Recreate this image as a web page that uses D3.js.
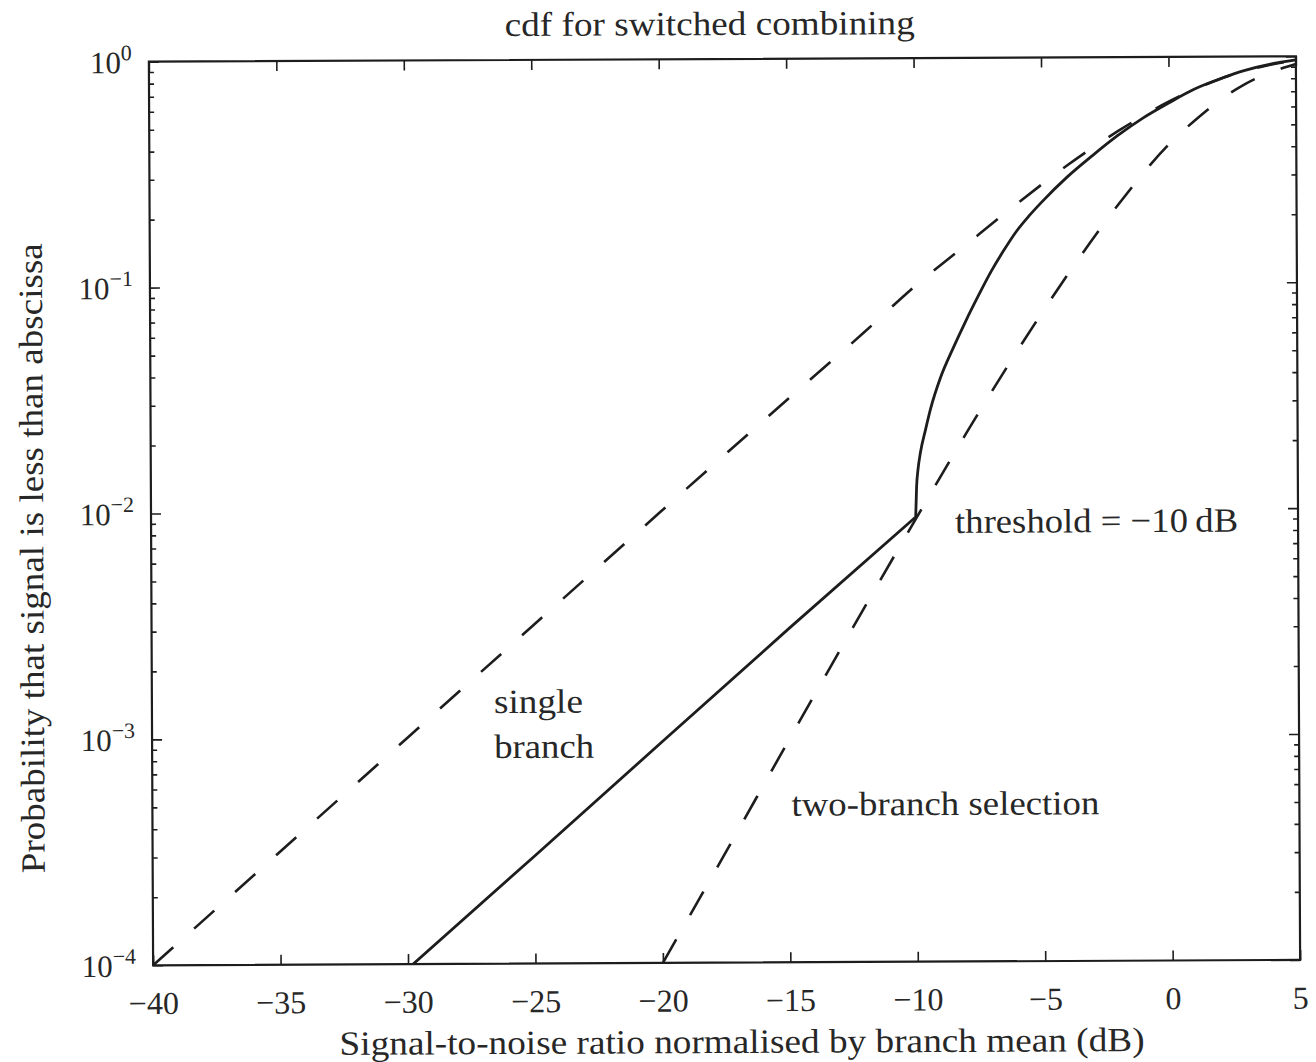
<!DOCTYPE html>
<html>
<head>
<meta charset="utf-8">
<script src="https://cdn.jsdelivr.net/npm/d3@7"></script>
<style>
  html, body { margin: 0; padding: 0; background: #fff; }
  svg { display: block; }
  text { font-family: "Liberation Serif", "Times New Roman", serif; fill: #272727; }
</style>
</head>
<body>
<svg id="chart" width="1316" height="1062"></svg>
<script>
// Normalised SNR (dB) and probability that the signal is below it
const singleDb = [-40, -35, -30, -25, -20, -15, -12, -10, -8, -6, -4, -2, 0, 1, 2, 3, 4, 5];
const singleP  = [1.0e-4, 3.16e-4, 1.0e-3, 3.16e-3, 9.95e-3, 0.0311, 0.0611, 0.0975, 0.148, 0.224, 0.332, 0.47, 0.633, 0.716, 0.795, 0.864, 0.919, 0.958];

const twoDb = [-20, -17.5, -15, -12.5, -10, -8, -6, -4, -2, 0, 1, 2, 3, 4, 5];
const twoP  = [1.0e-4, 3.1e-4, 9.7e-4, 3.0e-3, 9.1e-3, 0.0218, 0.05, 0.109, 0.222, 0.41, 0.52, 0.64, 0.755, 0.85, 0.925];

// switched combining: straight below the threshold, sharp rise just above it
const thresholdDb = -10;
const switchedDb = [-30, -25, -20, -15, -10, -9.96, -9.9, -9.8, -9.6, -9.4, -9.0, -8.5, -8.0, -7.5, -7.0, -6.5, -6.0, -5.5, -5.0, -4.0, -3.0, -2.0, -1.0, 0, 1, 2, 3, 4, 5];
const switchedP  = [9.55e-5, 3.0e-4, 9.5e-4, 3.0e-3, 9.3e-3, 0.0126, 0.0151, 0.0180, 0.0226, 0.0279, 0.0385, 0.0519, 0.0684, 0.0885, 0.113, 0.140, 0.170, 0.199, 0.229, 0.295, 0.367, 0.450, 0.538, 0.625, 0.718, 0.796, 0.869, 0.925, 0.964];

const xTickValues = [-40, -35, -30, -25, -20, -15, -10, -5, 0, 5];
const yTickExponents = [0, -1, -2, -3, -4];

const titleText = "cdf for switched combining";
const xLabelText = "Signal-to-noise ratio normalised by branch mean (dB)";
const yLabelText = "Probability that signal is less than abscissa";

// ---- layout ----
const W = 1316, H = 1062;
const frame = { left: 151, right: 1298, top: 59, bottom: 962.6 };
const ink = "#1d1d1d";

const x = d3.scaleLinear().domain([-40, 5]).range([frame.left, frame.right]);
const y = d3.scaleLog().domain([1e-4, 1]).range([frame.bottom, frame.top]);

const yMajor = yTickExponents.map(e => Math.pow(10, e));
const yMinor = [];
for (let e = -4; e < 0; e++) for (let m = 2; m <= 9; m++) yMinor.push(m * Math.pow(10, e));

const svg = d3.select("#chart");
svg.append("rect").attr("width", W).attr("height", H).attr("fill", "#fff");

// the whole figure sits with a very slight tilt
const g = svg.append("g").attr("transform", "rotate(-0.27 724.5 510.8)");

g.append("clipPath").attr("id", "plotClip")
  .append("rect")
  .attr("x", frame.left).attr("y", frame.top)
  .attr("width", frame.right - frame.left).attr("height", frame.bottom - frame.top);

// ---- axes ----
function styleAxis(sel) {
  sel.select(".domain").remove();
  sel.selectAll(".tick line").attr("stroke", ink).attr("stroke-width", 1.6);
}
const minus = d => (d < 0 ? "\u2212" + Math.abs(d) : String(d));

const xBottom = g.append("g")
  .attr("transform", `translate(0,${frame.bottom})`)
  .call(d3.axisBottom(x).tickValues(xTickValues).tickSizeInner(-10).tickSizeOuter(0)
        .tickPadding(26).tickFormat(minus));
styleAxis(xBottom);
xBottom.selectAll(".tick text").attr("font-size", 32).attr("fill", "#272727")
  .attr("font-family", "Liberation Serif, Times New Roman, serif");

const xTop = g.append("g")
  .attr("transform", `translate(0,${frame.top})`)
  .call(d3.axisTop(x).tickValues(xTickValues).tickSizeInner(-10).tickSizeOuter(0).tickFormat(""));
styleAxis(xTop);

const yLeft = g.append("g")
  .attr("transform", `translate(${frame.left},0)`)
  .call(d3.axisLeft(y).tickValues(yMajor).tickSizeInner(-10).tickSizeOuter(0).tickPadding(17));
styleAxis(yLeft);
yLeft.selectAll(".tick text").each(function (d) {
  const t = d3.select(this).text(null)
    .attr("font-size", 31).attr("fill", "#272727")
    .attr("font-family", "Liberation Serif, Times New Roman, serif")
    .attr("dy", "0.35em");
  t.append("tspan").text("10");
  t.append("tspan").attr("dy", -13).attr("font-size", 22).text(minus(Math.round(Math.log10(d))));
});

const yLeftMinor = g.append("g")
  .attr("transform", `translate(${frame.left},0)`)
  .call(d3.axisLeft(y).tickValues(yMinor).tickSizeInner(-5).tickSizeOuter(0).tickFormat(""));
styleAxis(yLeftMinor);

const yRight = g.append("g")
  .attr("transform", `translate(${frame.right},0)`)
  .call(d3.axisRight(y).tickValues(yMajor).tickSizeInner(-10).tickSizeOuter(0).tickFormat(""));
styleAxis(yRight);
const yRightMinor = g.append("g")
  .attr("transform", `translate(${frame.right},0)`)
  .call(d3.axisRight(y).tickValues(yMinor).tickSizeInner(-5).tickSizeOuter(0).tickFormat(""));
styleAxis(yRightMinor);

// frame
g.append("rect")
  .attr("x", frame.left).attr("y", frame.top)
  .attr("width", frame.right - frame.left).attr("height", frame.bottom - frame.top)
  .attr("fill", "none").attr("stroke", ink).attr("stroke-width", 2.2);

// ---- curves ----
const smooth = d3.line().x(d => x(d[0])).y(d => y(d[1])).curve(d3.curveMonotoneX);
const straight = d3.line().x(d => x(d[0])).y(d => y(d[1]));
const curves = g.append("g").attr("clip-path", "url(#plotClip)");

curves.append("path")
  .datum(d3.zip(singleDb, singleP))
  .attr("d", smooth).attr("fill", "none").attr("stroke", ink)
  .attr("stroke-width", 2.6).attr("stroke-dasharray", "27 28");

curves.append("path")
  .datum(d3.zip(twoDb, twoP))
  .attr("d", smooth).attr("fill", "none").attr("stroke", ink)
  .attr("stroke-width", 2.6).attr("stroke-dasharray", "27 28");

// switched: linear segment up to the threshold, smooth segment after it, one path
const switched = d3.zip(switchedDb, switchedP);
const below = switched.filter(d => d[0] <= thresholdDb);
const above = switched.filter(d => d[0] >= thresholdDb);
curves.append("path")
  .attr("d", straight(below) + smooth(above).replace(/^M/, "L"))
  .attr("fill", "none").attr("stroke", ink)
  .attr("stroke-width", 2.8).attr("stroke-linejoin", "round");

// ---- text ----
function label(txt, px, py, len, anchor, size) {
  return g.append("text")
    .attr("x", px).attr("y", py)
    .attr("text-anchor", anchor)
    .attr("font-size", size)
    .attr("textLength", len)
    .attr("lengthAdjust", "spacingAndGlyphs")
    .text(txt);
}

label(titleText, 712, 35, 410, "middle", 34);
label(xLabelText, 739.5, 1053, 805, "middle", 34);
g.append("text")
  .attr("transform", "translate(43,555) rotate(-90)")
  .attr("text-anchor", "middle")
  .attr("font-size", 34)
  .attr("textLength", 630)
  .attr("lengthAdjust", "spacingAndGlyphs")
  .text(yLabelText);

label("threshold = \u221210\u2009dB", 955, 534, 283, "start", 34);
label("single", 493, 712, 89, "start", 34);
label("branch", 493, 757, 100, "start", 34);
label("two-branch selection", 790, 816, 308, "start", 34);
</script>
</body>
</html>
